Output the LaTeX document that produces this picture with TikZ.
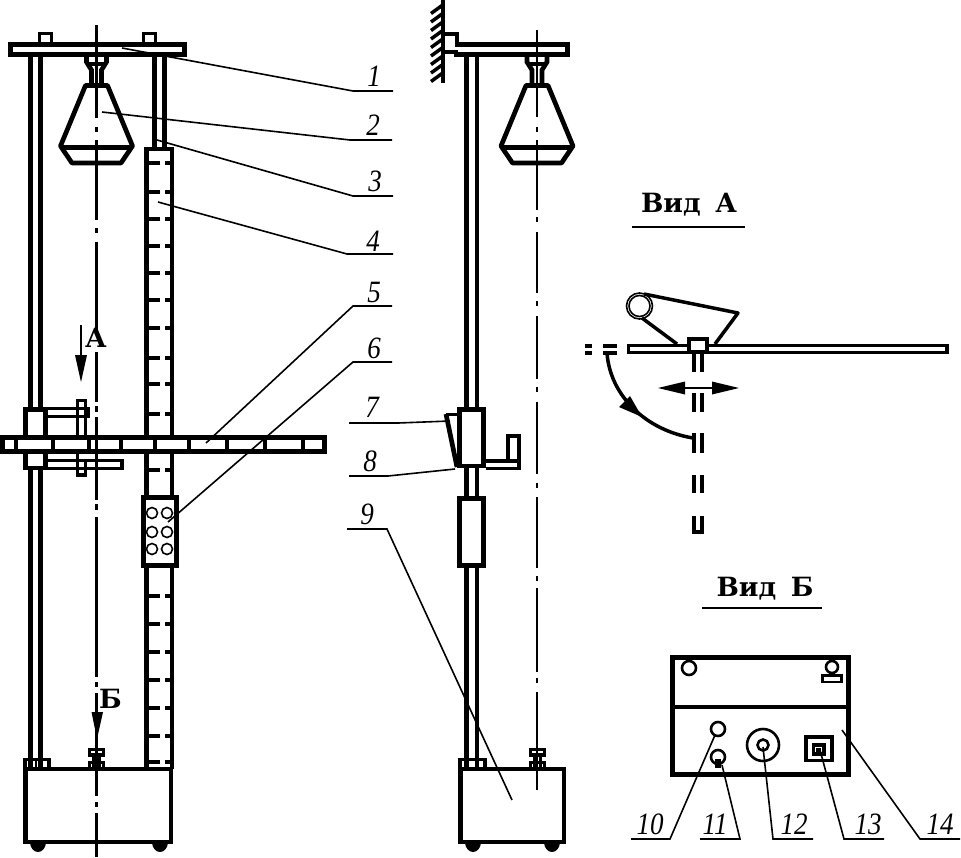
\documentclass[tikz,border=0pt]{standalone}
\usepackage{fontspec}
\usepackage{graphicx}
\setmainfont{Liberation Serif}
\newfontfamily\slabfont{DejaVu Serif}
\newcommand{\nmtxt}[1]{\scalebox{1}[1.15]{\fontsize{27}{27}\selectfont\itshape #1}}
\newcommand{\vidtxt}[1]{{\fontsize{26.5}{26.5}\selectfont\slabfont\bfseries #1}}
\newcommand{\bucketshape}[1]{%
  \begin{scope}[shift={(#1,0)}]
    \draw[heavy] (-10,57) -- (-10,62) -- (-5,70) -- (-5,85);
    \draw[heavy] (10,57) -- (10,62) -- (5,70) -- (5,85);
    \draw[medium] (-10,64) -- (10,64);
    \draw[heavy,line join=round] (-11,85.5) -- (11,85.5) -- (36,146) -- (24.5,163) -- (-24.5,163) -- (-36,146) -- cycle;
    \draw[heavy] (-36,147.5) -- (36,147.5);
  \end{scope}}
\newcommand{\baseunit}[5]{% x0,x1,smallblock right,bolt centre,wheel2
  \draw[heavy] (#1,769) rectangle (#2,842);
  \fill (#1+12.5,842) ++(-8,0) arc[start angle=180,end angle=0,x radius=8,y radius=10] -- cycle;
  \fill (#5,842) ++(-8,0) arc[start angle=180,end angle=0,x radius=8,y radius=10] -- cycle;
  \draw[medium] (#1-.5,769) -- (#1-.5,759.5) -- (#3,759.5) -- (#3,769);
  \draw[medium] (#4-7,769) -- (#4-7,762.5) -- (#4+7,762.5) -- (#4+7,769);
  \draw[medium] (#4-7,749.5) rectangle (#4+7,755);
  \draw[medium] (#4-3,755) -- (#4-3,769) (#4+3,755) -- (#4+3,769);
  }
\tikzset{
  x=1pt,y=-1pt,
  heavy/.style={line width=4.7pt,line cap=butt,line join=miter},
  medium/.style={line width=3.5pt,line cap=butt,line join=miter},
  ringline/.style={line width=2.6pt},
  axisline/.style={line width=2.4pt},
  leader/.style={line width=1.6pt},
  fine/.style={line width=1.6pt},
  num/.style={inner sep=0pt},
  vid/.style={inner sep=0pt}
}
\begin{document}
\begin{tikzpicture}
\useasboundingbox (0,0) rectangle (961,857);
\fill[white] (0,0) rectangle (961,857);

%% ---------- left view ----------
% top plate
\draw[heavy] (10.5,44.5) rectangle (184.5,54.5);
\draw[medium] (39.5,42) -- (39.5,33.5) -- (51.5,33.5) -- (51.5,42);
\draw[medium] (143.5,42) -- (143.5,33.5) -- (155.5,33.5) -- (155.5,42);
% rods
\draw[heavy] (30.8,57) -- (30.8,407) (40.8,57) -- (40.8,407);
\draw[heavy] (30.8,470) -- (30.8,769) (40.8,470) -- (40.8,769);
\draw[heavy] (154.5,57) -- (154.5,148) (164.5,57) -- (164.5,148);
\bucketshape{96.5}
% scale
\draw[heavy] (146.7,769) -- (146.7,149) -- (172,149) -- (172,769);
\foreach \y in {163,192,219,246,273,300,328,358,384,414,470,596,624,652,680,708,736,762}
  \draw[medium] (148,\y) -- (160,\y) (165,\y) -- (171,\y);
% slider bar
\fill[white] (2,437) rectangle (325,452);
\draw[heavy] (2.5,437.5) rectangle (324.5,451.5);
\foreach \x in {16,53,89,121,155,189,227,265,303}
  \draw[line width=4.5pt] (\x,437) -- (\x,452);
% clamp
\draw[heavy] (25.5,437) -- (25.5,409.5) -- (45.5,409.5) -- (45.5,437);
\draw[medium] (46,408.5) -- (88.5,408.5) -- (88.5,416.5) -- (46,416.5);
\draw[medium] (77.5,437) -- (77.5,400.5) -- (85.5,400.5) -- (85.5,437);
\draw[heavy] (25.5,452) -- (25.5,468) -- (45.5,468) -- (45.5,452);
\draw[medium] (46,460.5) -- (122,460.5) -- (122,468.5) -- (46,468.5);
\draw[medium] (77.5,454) -- (77.5,475) -- (85.5,475) -- (85.5,460);
% block 6
\fill[white] (143.5,497.5) rectangle (176.5,565.5);
\draw[heavy] (143.5,497.5) rectangle (176.5,565.5);
\foreach \cx in {152,167} \foreach \cy in {513,532,549}
  \draw[fine] (\cx,\cy) circle[radius=5.5];
% axis
\foreach \a/\b in {25/118,127/132,140/220,228/233,242/330,352/402,406/412,417/500,504/510,517/677,682/687,693/796,802/807,813/857}
  \draw[axisline] (96.5,\a) -- (96.5,\b);
% arrow A
\draw[line width=2pt] (81,325) -- (81,356);
\fill (75,355) -- (87,355) -- (81,382) -- cycle;
\node[vid] (lblA) at (96,338) {\vidtxt{А}};
% arrow B
\fill (91.5,712) -- (103,712) -- (97,739) -- cycle;
\node[vid] (lblB) at (110.5,699) {\vidtxt{Б}};
% base
\baseunit{25.5}{171}{49}{96.5}{160}
\draw[fine] (36,761) -- (36,768);

%% ---------- right view ----------
\foreach \a/\b in {30/117,127/132,140/210,217/222,232/293,301/306,316/379,387/392,402/474,483/488,497/568,576/581,588/672,678/683,692/790}
  \draw[axisline] (537,\a) -- (537,\b);
% wall
\draw[heavy] (443,0) -- (443,83);
\foreach \y in {11,19.5,28,36.5,45,53.5,62,70.5,79}
  \draw[medium] (431,\y+2.5) -- (442,\y-5.5);
% bracket
\draw[heavy] (443,34) -- (457,34) -- (457,44.5) -- (567.5,44.5) -- (567.5,54.5) -- (456,54.5) -- (456,52) -- (443,52);
% rods
\draw[heavy] (466.5,56) -- (466.5,407) (477,56) -- (477,407);
\draw[heavy] (466.5,468) -- (466.5,496) (477,468) -- (477,496);
\draw[heavy] (466.5,568) -- (466.5,769) (477,568) -- (477,769);
\bucketshape{537}
% slider
\draw[heavy] (459.5,409.5) rectangle (483.5,466);
\draw[medium] (457,414.5) -- (445.5,414.5);
\draw[heavy] (446,414) -- (457,467);
\draw[medium] (486,461) -- (519,461);
\draw[medium] (486,468.5) -- (519,468.5) -- (519,436) -- (508,436) -- (508,461);
\draw[heavy] (459.5,498.5) rectangle (483.5,565.5);
% base
\baseunit{460.5}{564}{485}{537.5}{552}

%% ---------- view A ----------
\node[vid] (vidA) at (689,205) {\vidtxt{Вид\hspace{0.55em}А}};
\draw[line width=2pt] (632,227) -- (745,227);
\draw[medium] (628.5,345.5) rectangle (947,352.5);
\fill[white] (689,339) rectangle (707,352);
\draw[medium] (689,339) rectangle (707,352);
\draw[fine] (639.5,306) circle[radius=13];
\draw[fine] (639.5,306) circle[radius=10.5];
\draw[medium,line join=round] (644,294) -- (738,313) -- (715,344);
\draw[medium] (642,318) -- (677,344);
\foreach \a/\b in {585/592,603/617}
  \draw[medium] (\a,346) -- (\b,346) (\a,353) -- (\b,353);
\foreach \a/\b in {352/372,393/412,433/453,475/493}
  \draw[medium] (694,\a) -- (694,\b) (702,\a) -- (702,\b);
\draw[medium] (694,516) -- (694,532) -- (702,532) -- (702,516);
% double arrow
\draw[line width=2pt] (680,388) -- (715,388);
\fill (658,388) -- (685,381.5) -- (685,394.5) -- cycle;
\fill (739,388) -- (712,381.5) -- (712,394.5) -- cycle;
% swing arrow
\draw[medium] (607,353) .. controls (610,395) and (645,430) .. (693,438);
\fill (630,396) -- (619,407) -- (642,417) -- cycle;

%% ---------- view B ----------
\node[vid] (vidB) at (765,589) {\vidtxt{Вид\hspace{0.55em}Б}};
\draw[line width=2pt] (702,608) -- (822,608);
\draw[heavy] (672.5,657.5) rectangle (848.5,774.5);
\draw[heavy] (672,707) -- (849,707);
\draw[ringline] (689,668) circle[radius=7];
\draw[ringline] (832,667) circle[radius=6];
\draw[ringline] (822.5,675.5) rectangle (841.5,682);
\draw[ringline] (718,729) circle[radius=7];
\draw[ringline] (718,757) circle[radius=7];
\fill (715,759) rectangle (721,768);
\draw[ringline] (763,745) circle[radius=16];
\draw[ringline] (763,745) circle[radius=5.5];
\draw[medium] (806,737) rectangle (832,760.5);
\draw[medium] (813.5,745) rectangle (824,754);
\fill (816,748) rectangle (821,754);

%% ---------- leaders and labels ----------
\draw[leader] (122,48) -- (353,91) -- (393,91);
\draw[leader] (102,112) -- (350,140) -- (392,140);
\draw[leader] (157,140) -- (353,196) -- (393,196);
\draw[leader] (158,202) -- (347,254) -- (393,254);
\draw[leader] (206,443) -- (353,306) -- (392,306);
\draw[leader] (168,522) -- (353,362) -- (392,362);
\draw[leader] (349,423) -- (398,423) -- (450,421);
\draw[leader] (349,476) -- (388,476) -- (455,469);
\draw[leader] (347,529) -- (387,529) -- (512,800);
\draw[leader] (631,839) -- (670,839) -- (715,735);
\draw[leader] (700,839) -- (740,839) -- (722,765);
\draw[leader] (813,839) -- (773,839) -- (763,747);
\draw[leader] (884,839) -- (844,839) -- (820,750);
\draw[leader] (960,839) -- (920,839) -- (842,730);
\node[num] (n1) at (374,76) {\nmtxt{1}};
\node[num] (n2) at (373,125) {\nmtxt{2}};
\node[num] (n3) at (375,181) {\nmtxt{3}};
\node[num] (n4) at (373,241) {\nmtxt{4}};
\node[num] (n5) at (374,292) {\nmtxt{5}};
\node[num] (n6) at (374,348) {\nmtxt{6}};
\node[num] (n7) at (372,407) {\nmtxt{7}};
\node[num] (n8) at (370,461) {\nmtxt{8}};
\node[num] (n9) at (367,514) {\nmtxt{9}};
\node[num] (n10) at (650,824) {\nmtxt{10}};
\node[num] (n11) at (715,824) {\nmtxt{11}};
\node[num] (n12) at (794,824) {\nmtxt{12}};
\node[num] (n13) at (868,824) {\nmtxt{13}};
\node[num] (n14) at (940,824) {\nmtxt{14}};
\end{tikzpicture}
\end{document}
